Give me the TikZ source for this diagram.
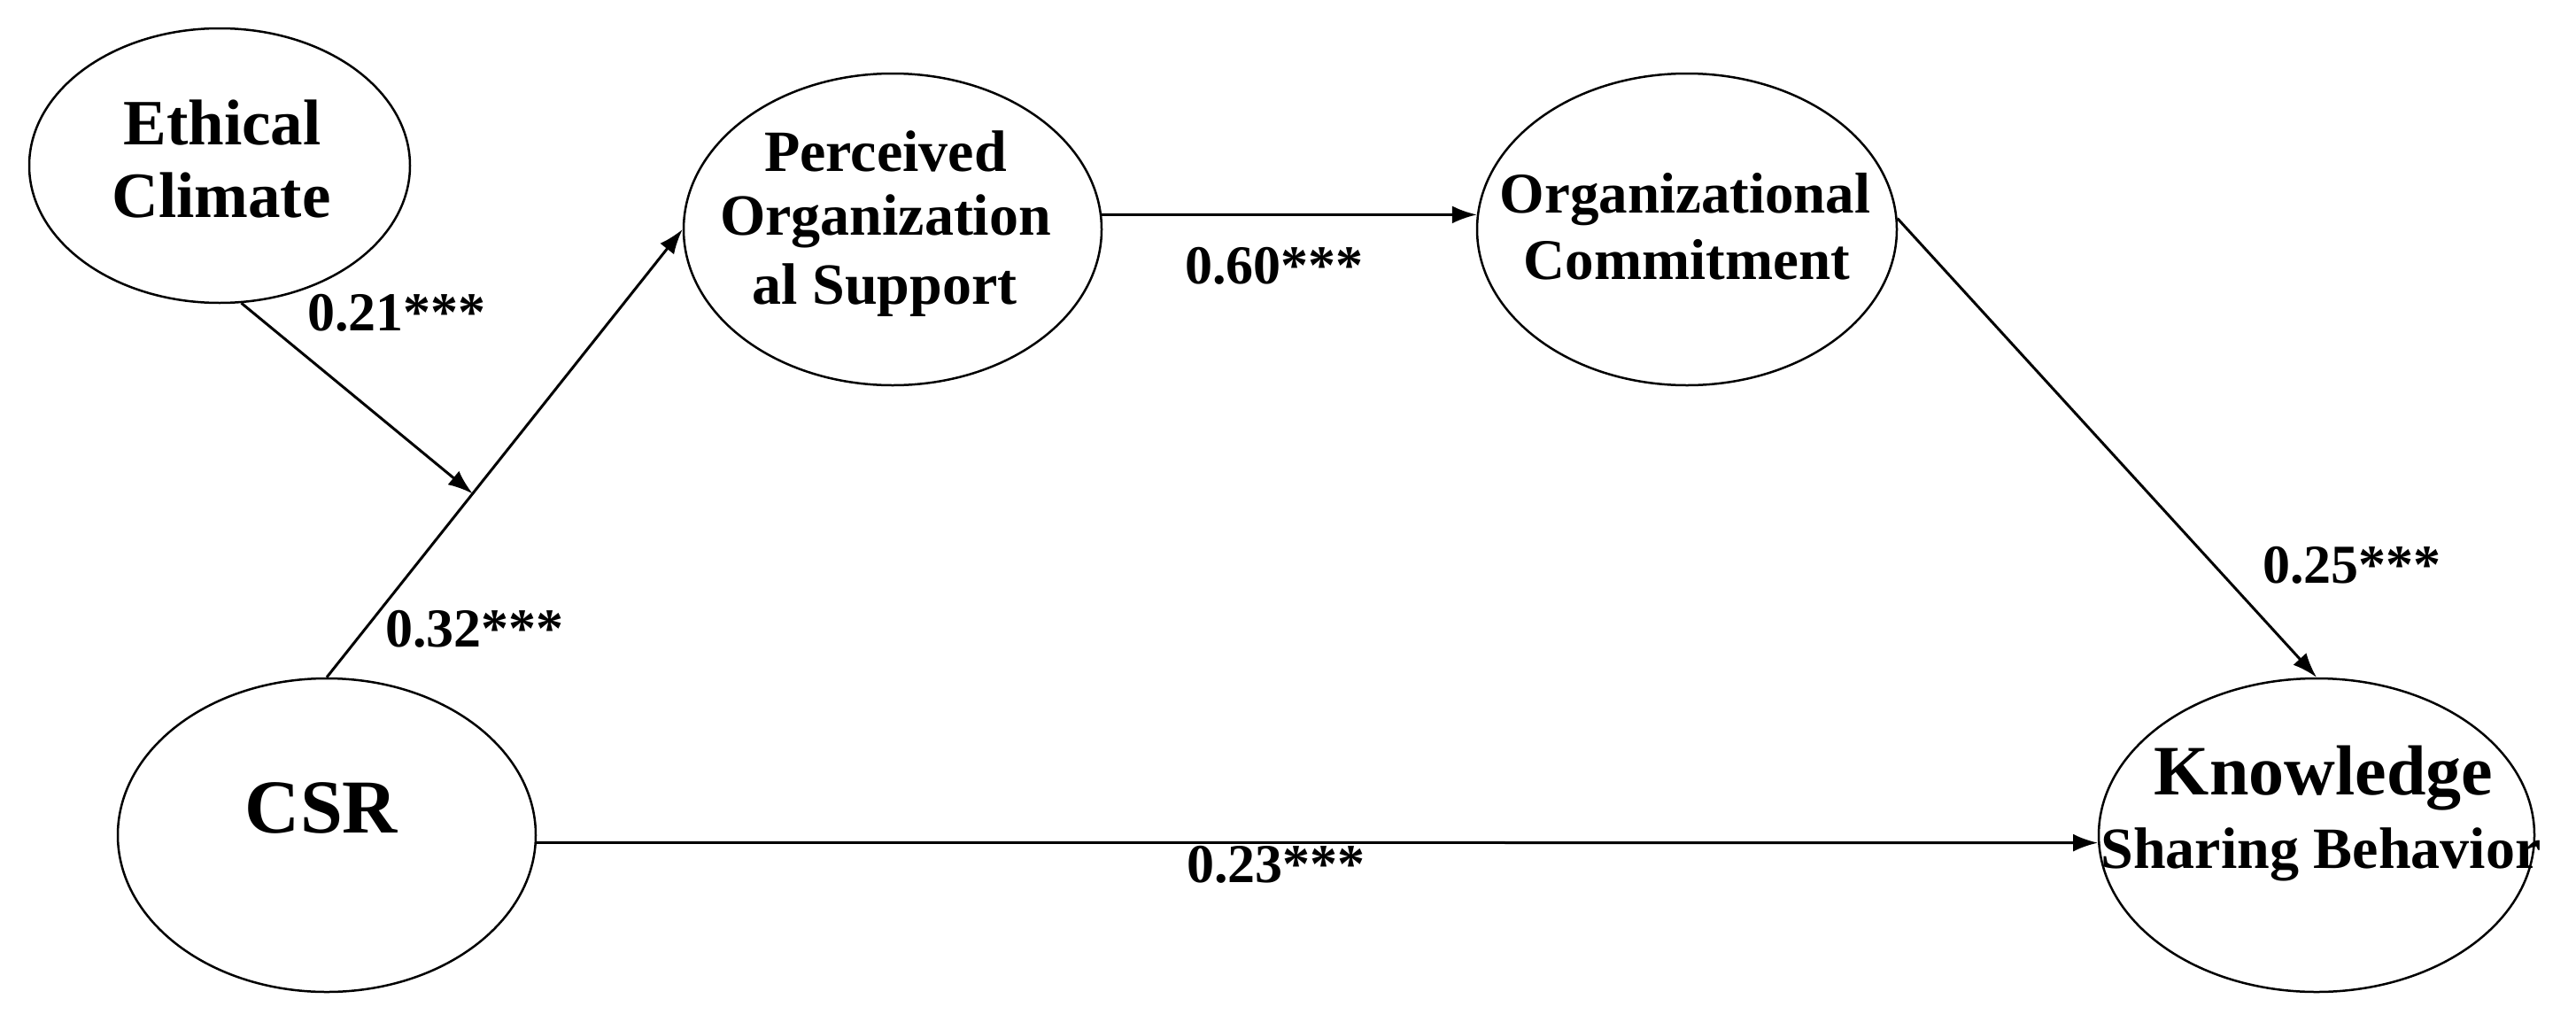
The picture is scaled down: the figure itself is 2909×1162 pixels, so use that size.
\documentclass[tikz,border=0pt]{standalone}
\usepackage{fontspec}
\setmainfont{Liberation Serif}
\usetikzlibrary{arrows.meta,calc,shapes.geometric}
\begin{document}
\begin{tikzpicture}[x=1pt,y=-1pt,
  lat/.style={draw, ellipse, line width=2.5pt, inner sep=0pt},
  txt/.style={anchor=base, inner sep=0pt, font=\bfseries\fontsize{#1}{#1}\selectfont},
  conn/.style={line width=3pt, -{Latex[length=28pt,width=20pt]}}
]
\fill[white] (0,0) rectangle (2909,1162);
\useasboundingbox (0,0) rectangle (2909,1162);

% latent variables
\node[lat, minimum width=430pt, minimum height=310pt] (ec)  at (248,187) {};
\node[lat, minimum width=472pt, minimum height=352pt] (pos) at (1008,259) {};
\node[lat, minimum width=474pt, minimum height=352pt] (oc)  at (1905,259) {};
\node[lat, minimum width=472pt, minimum height=354pt] (csr) at (369,943) {};
\node[lat, minimum width=492pt, minimum height=354pt] (ksb) at (2616,943) {};

% texts
\node[txt=73] (ec1) at (251,163) {Ethical};
\node[txt=73] (ec2) at (250,245) {Climate};
\node[txt=66] (pos1) at (1000,193) {Perceived};
\node[txt=66] (pos2) at (1000,265) {Organization};
\node[txt=66] (pos3) at (999,343) {al Support};
\node[txt=65] (oc1) at (1903,240) {Organizational};
\node[txt=65] (oc2) at (1905,315) {Commitment};
\node[txt=86] (csr1) at (363,940) {CSR};
\node[txt=80] (ksb1) at (2624,897) {Knowledge};
\node[txt=66] (ksb2) at (2621,980) {Sharing Behavior};

% connectors
\coordinate (j) at ($(csr.north)!0.41!(pos.west)$);
\draw[conn] (csr.north) -- (pos.west);
\draw[conn] (ec.-81) -- (j);
\draw[conn] (pos.4) -- (oc.176);
\draw[conn] (oc.3) -- (ksb.north);
\draw[conn] (csr.-2.5) -- (ksb.182.5);

% coefficients
\node[txt=62, anchor=base west] (c21) at (347,373) {0.21***};
\node[txt=62, anchor=base west] (c32) at (435,730) {0.32***};
\node[txt=62, anchor=base west] (c60) at (1338,320) {0.60***};
\node[txt=62, anchor=base west] (c25) at (2555,658) {0.25***};
\node[txt=62, anchor=base west] (c23) at (1340,996) {0.23***};
\end{tikzpicture}
\end{document}
